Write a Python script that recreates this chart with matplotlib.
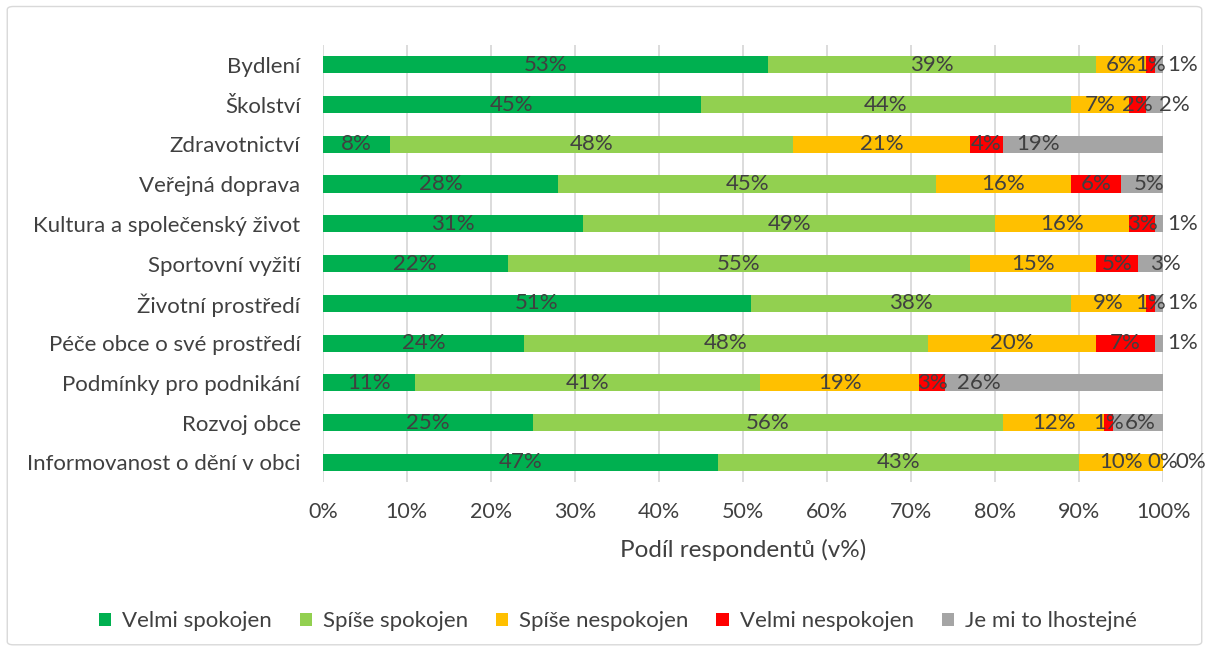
import matplotlib
matplotlib.use("Agg")
import matplotlib.pyplot as plt
from matplotlib.patches import FancyBboxPatch
import numpy as np

plt.rcParams['font.family'] = ['Lato', 'DejaVu Sans']

categories = ['Bydlení', 'Školství', 'Zdravotnictví', 'Veřejná doprava',
              'Kultura a společenský život', 'Sportovní vyžití', 'Životní prostředí',
              'Péče obce o své prostředí', 'Podmínky pro podnikání', 'Rozvoj obce',
              'Informovanost o dění v obci']
series = ['Velmi spokojen', 'Spíše spokojen', 'Spíše nespokojen',
          'Velmi nespokojen', 'Je mi to lhostejné']
velmi_spokojen = [53, 45, 8, 28, 31, 22, 51, 24, 11, 25, 47]
spise_spokojen = [39, 44, 48, 45, 49, 55, 38, 48, 41, 56, 43]
spise_nespokojen = [6, 7, 21, 16, 16, 15, 9, 20, 19, 12, 10]
velmi_nespokojen = [1, 2, 4, 6, 3, 5, 1, 7, 3, 1, 0]
lhostejne = [1, 2, 19, 5, 1, 3, 1, 1, 26, 6, 0]
colors = ['#00B050', '#92D050', '#FFC000', '#FF0000', '#A5A5A5']

data = [velmi_spokojen, spise_spokojen, spise_nespokojen, velmi_nespokojen, lhostejne]
txt = '#404040'
fs = 16

fig = plt.figure(figsize=(12.09, 6.5), dpi=100)
fig.patches.append(FancyBboxPatch((0.006, 0.008), 0.988, 0.982, boxstyle='round,pad=0,rounding_size=0.005',
                                  transform=fig.transFigure, facecolor='white',
                                  edgecolor='#D9D9D9', linewidth=1.0, zorder=-1))
ax = fig.add_axes([0.267, 0.258, 0.695, 0.673])

y = np.arange(len(categories))
left = np.zeros(len(categories))
for i, (name, vals) in enumerate(zip(series, data)):
    vals = np.array(vals, dtype=float)
    ax.barh(y, vals, left=left, height=0.43, color=colors[i], label=name, zorder=3)
    for j, v in enumerate(vals):
        if i == 4:
            ax.text(left[j] + 1.5, y[j], f'{int(v)}%', ha='left', va='center',
                    fontsize=fs, color=txt, zorder=4)
        else:
            ax.text(left[j] + v / 2, y[j], f'{int(v)}%', ha='center', va='center',
                    fontsize=fs, color=txt, zorder=4)
    left += vals

ax.set_xlim(0, 100)
ax.set_ylim(len(categories) - 0.5, -0.5)
ax.set_yticks(y)
ax.set_yticklabels(categories, fontsize=fs, color=txt)
ax.set_xticks(np.arange(0, 101, 10))
ax.set_xticklabels([f'{t}%' for t in range(0, 101, 10)], fontsize=15.5, color=txt)
ax.tick_params(axis='both', length=0)
ax.tick_params(axis='y', pad=16)
ax.tick_params(axis='x', pad=14)
ax.grid(axis='x', color='#D9D9D9', linewidth=1.3, zorder=0)
for s in ax.spines.values():
    s.set_visible(False)
ax.set_xlabel('Podíl respondentů (v%)', fontsize=17.5, color=txt, labelpad=12)

fig.legend(loc='center', bbox_to_anchor=(0.511, 0.044), ncol=5, frameon=False,
           fontsize=fs, handlelength=0.55, handleheight=0.55, handletextpad=0.5,
           columnspacing=1.25, labelcolor=txt)

fig.savefig('out.png', dpi=100)
